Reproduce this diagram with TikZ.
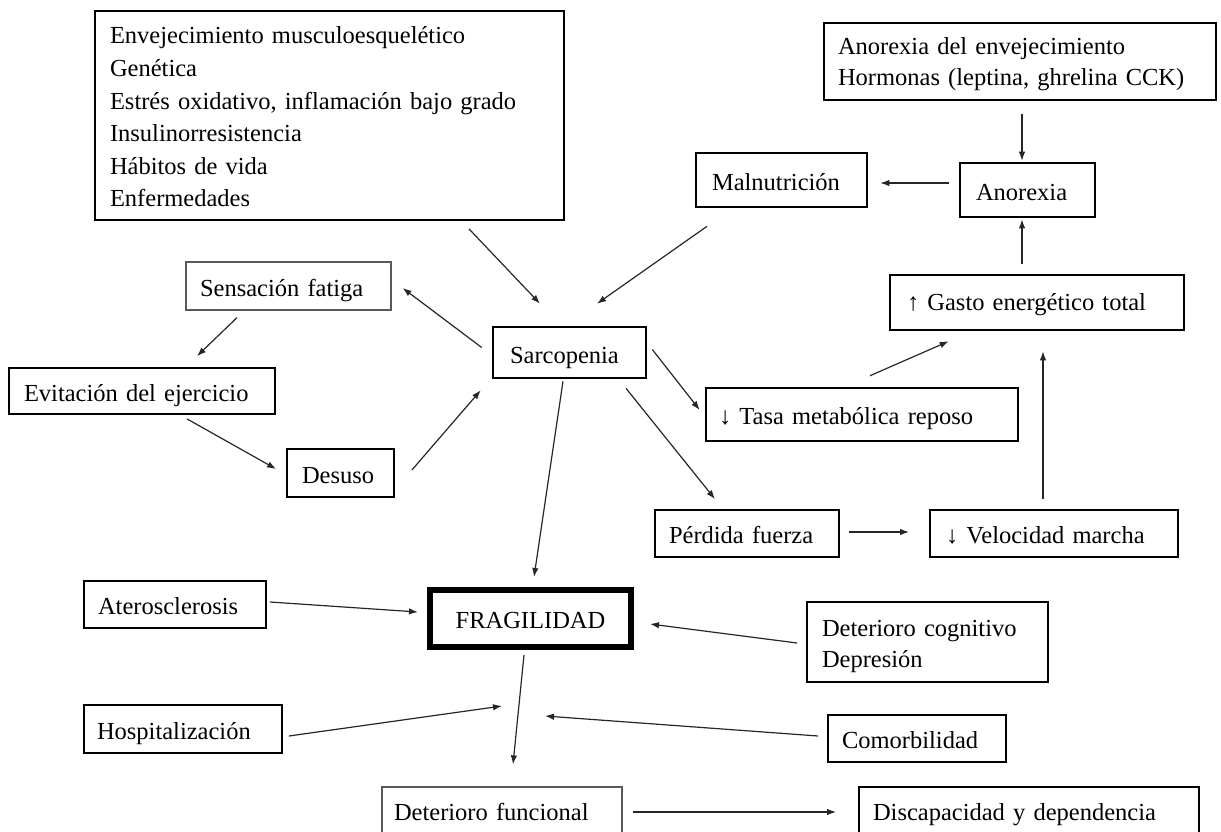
\documentclass[tikz,border=0pt]{standalone}
\usepackage{fontspec}
\setmainfont{Liberation Serif}
\usepackage{tikz}
\usetikzlibrary{arrows.meta, calc, positioning}

\newcommand{\boxfont}{\fontsize{24.5pt}{32.6pt}\selectfont}

\begin{document}
\begin{tikzpicture}[x=1pt, y=-1pt,
    main box/.style={draw, font=\boxfont, align=left, inner xsep=14pt, inner ysep=0pt, line width=1.8pt},
    line box/.style={main box, text height=26pt, text depth=6pt},
    thin box/.style={line box, line width=1.2pt, draw=black!65},
    bold box/.style={line box, line width=2.6pt},
    arr/.style={-{Latex[length=9pt,width=6.5pt]}, line width=1.2pt, black!85}]

  \path[use as bounding box, clip] (0,0) rectangle (1221,831);

  % top row
  \node[main box, inner xsep=15pt, text width=439pt, minimum height=209pt] (factors) at (329.5,115.5)
    {\rule{0pt}{20pt}Envejecimiento musculoesquelético\\ Genética\\ Estrés oxidativo, inflamación bajo grado\\
     Insulinorresistencia\\ Hábitos de vida\\ Enfermedades};
  \node[main box, inner xsep=14pt, text width=364pt, minimum height=77pt,
        font=\fontsize{24.5pt}{31pt}\selectfont] (anorexiaenv) at (1020,61.5)
    {\rule{0pt}{23pt}Anorexia del envejecimiento\\ Hormonas (leptina, ghrelina CCK)};
  \node[bold box, inner xsep=16pt, text width=139pt, minimum height=54pt] (malnu) at (781.5,180) {Malnutrición};
  \node[bold box, inner xsep=16pt, text width=103pt, minimum height=54pt] (anorexia) at (1027.5,190) {Anorexia};

  % sarcopenia loop
  \node[thin box, text width=177pt, minimum height=48pt] (sensacion) at (288.5,286) {Sensación fatiga};
  \node[bold box, inner xsep=17pt, text width=119pt, minimum height=51pt, text height=27pt] (sarco) at (569.5,352.5) {Sarcopenia};
  \node[line box, inner xsep=15pt, text width=236pt, minimum height=46pt] (evitacion) at (142,391) {Evitación del ejercicio};
  \node[line box, inner xsep=15pt, text width=77pt, minimum height=48pt] (desuso) at (340.5,473) {Desuso};

  % energy side
  \node[bold box, inner xsep=17pt, text width=260pt, minimum height=55pt, text height=21pt] (gasto) at (1037,302.5) {↑ Gasto energético total};
  \node[bold box, inner xsep=13pt, text width=286pt, minimum height=53pt] (tasa) at (862,414.5) {↓ Tasa metabólica reposo};
  \node[line box, text width=156pt, minimum height=47pt] (perdida) at (747,533.5) {Pérdida fuerza};
  \node[line box, inner xsep=16pt, text width=216pt, minimum height=47pt] (velocidad) at (1054,533.5) {↓ Velocidad marcha};

  % frailty
  \node[line box, text width=154pt, minimum height=47pt] (atero) at (175,604.5) {Aterosclerosis};
  \node[line box, align=center, line width=6pt, text width=173pt, minimum height=57pt] (fragil) at (530.5,618.5) {FRAGILIDAD};
  \node[main box, inner xsep=15pt, text width=211pt, minimum height=80pt,
        font=\fontsize{24.5pt}{31pt}\selectfont] (detcog) at (927.5,642)
    {\rule{0pt}{26pt}Deterioro cognitivo\\ Depresión};
  \node[line box, inner xsep=13pt, text width=172pt, minimum height=48pt] (hosp) at (183,729) {Hospitalización};
  \node[line box, text width=150pt, minimum height=47pt] (comorb) at (917,738.5) {Comorbilidad};
  \node[thin box, inner xsep=12pt, text width=216pt, minimum height=52pt, text height=20pt] (detfunc) at (502,813) {Deterioro funcional};
  \node[line box, text width=312pt, minimum height=52pt, text height=20pt] (discap) at (1029,813) {Discapacidad y dependencia};

  \coordinate (hospend) at (502,706);
  \coordinate (comorbend) at (545,716);

  % connectors
  \draw[arr] ([shift={(139.5,8)}]factors.south) -- ([shift={(-29.5,-22)}]sarco.north);
  \draw[arr] ([shift={(-74.5,18)}]malnu.south) -- ([shift={(27.5,-22)}]sarco.north);
  \draw[arr] ([shift={(-10,-7)}]anorexia.west) -- ([shift={(12,3)}]malnu.east);
  \draw[arr] ([shift={(2,13)}]anorexiaenv.south) -- ([shift={(-5.5,-1)}]anorexia.north);
  \draw[arr] ([shift={(-15,-10)}]gasto.north) -- ([shift={(-5.5,1)}]anorexia.south);
  \draw[arr] ([shift={(-10,-5)}]sarco.west) -- ([shift={(11,2)}]sensacion.east);
  \draw[arr] ([shift={(-51.5,7)}]sensacion.south) -- ([shift={(55,-11)}]evitacion.north);
  \draw[arr] ([shift={(45,4)}]evitacion.south) -- ([shift={(-10,-4)}]desuso.west);
  \draw[arr] ([shift={(17,-3)}]desuso.east) -- ([shift={(-11,11)}]sarco.south west);
  \draw[arr] ([shift={(5,-3)}]sarco.east) -- ([shift={(-5,-4.5)}]tasa.west);
  \draw[arr] ([shift={(8,-11)}]tasa.north) -- ([shift={(60,10)}]gasto.south west);
  \draw[arr] ([shift={(56.5,9)}]sarco.south) -- ([shift={(-32,-10)}]perdida.north);
  \draw[arr] ([shift={(9,-1.5)}]perdida.east) -- ([shift={(-20,-1.5)}]velocidad.west);
  \draw[arr] ([shift={(-11,-10)}]velocidad.north) -- ([shift={(6,20)}]gasto.south);
  \draw[arr] ([shift={(-6.5,2)}]sarco.south) -- ([shift={(3.5,-10)}]fragil.north);
  \draw[arr] ([shift={(3,-2.5)}]atero.east) -- ([shift={(-9,-6.5)}]fragil.west);
  \draw[arr] ([shift={(-9,1)}]detcog.west) -- ([shift={(16,5.5)}]fragil.east);
  \draw[arr] ([shift={(-6.5,5)}]fragil.south) -- ([shift={(11,-22)}]detfunc.north);
  \draw[arr] ([shift={(6,7)}]hosp.east) -- (hospend);
  \draw[arr] ([shift={(-9,-2.5)}]comorb.west) -- (comorbend);
  \draw[arr] ([shift={(10,-1)}]detfunc.east) -- ([shift={(-22,-1)}]discap.west);

\end{tikzpicture}
\end{document}
